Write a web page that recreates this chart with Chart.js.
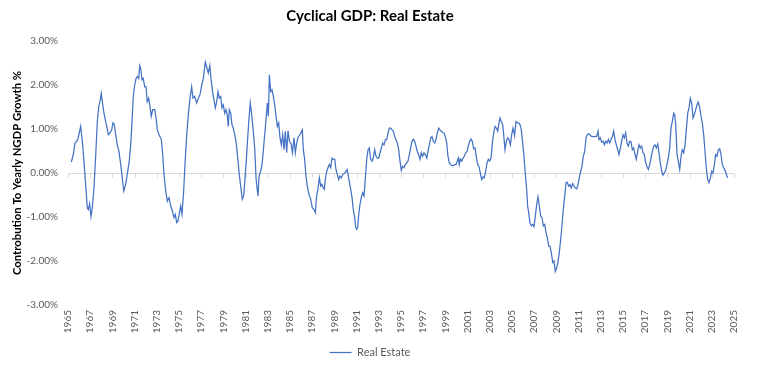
<!DOCTYPE html>
<html><head><meta charset="utf-8">
<script src="https://cdn.jsdelivr.net/npm/chart.js@4/dist/chart.umd.min.js"></script>
<style>html,body{margin:0;padding:0;background:#fff;}</style>
</head><body>
<canvas id="c" width="757" height="371"></canvas>
<script>
const chartTitle = 'Cyclical GDP: Real Estate';
const yAxisTitle = 'Controbution To Yearly NGDP Growth %';
const seriesName = 'Real Estate';

const years = [
1965.30,1965.48,1965.63,1965.78,1965.90,1966.14,1966.29,1966.44,1966.59,1966.74,1966.83,1966.95,
1967.07,1967.19,1967.34,1967.50,1967.64,1967.77,1967.88,1968.00,1968.13,1968.24,1968.36,1968.49,
1968.63,1968.78,1968.94,1969.05,1969.17,1969.30,1969.44,1969.59,1969.75,1969.89,1970.02,1970.16,
1970.34,1970.52,1970.65,1970.77,1970.88,1971.01,1971.13,1971.24,1971.37,1971.46,1971.55,1971.67,
1971.78,1971.91,1972.03,1972.14,1972.27,1972.39,1972.50,1972.63,1972.81,1972.93,1973.05,1973.20,
1973.41,1973.53,1973.65,1973.80,1973.95,1974.10,1974.25,1974.40,1974.55,1974.67,1974.79,1974.90,
1975.01,1975.15,1975.27,1975.42,1975.57,1975.72,1975.87,1975.99,1976.14,1976.26,1976.41,1976.59,
1976.74,1976.89,1977.05,1977.19,1977.37,1977.52,1977.64,1977.77,1977.88,1978.04,1978.15,1978.27,
1978.40,1978.51,1978.63,1978.76,1978.87,1978.99,1979.12,1979.23,1979.35,1979.44,1979.53,1979.66,
1979.77,1979.89,1980.02,1980.16,1980.29,1980.43,1980.59,1980.70,1980.83,1980.95,1981.06,1981.19,
1981.31,1981.42,1981.55,1981.69,1981.82,1981.94,1982.03,1982.12,1982.21,1982.36,1982.48,1982.59,
1982.72,1982.84,1982.96,1983.05,1983.14,1983.26,1983.38,1983.50,1983.62,1983.74,1983.86,1983.98,
1984.10,1984.22,1984.34,1984.46,1984.58,1984.70,1984.82,1984.95,1985.10,1985.22,1985.36,1985.48,
1985.60,1985.72,1985.87,1985.99,1986.11,1986.20,1986.32,1986.44,1986.56,1986.71,1986.87,1987.01,
1987.16,1987.28,1987.41,1987.52,1987.64,1987.77,1987.88,1988.00,1988.09,1988.18,1988.31,1988.42,
1988.54,1988.67,1988.78,1988.90,1989.03,1989.14,1989.26,1989.39,1989.50,1989.62,1989.77,1989.93,
1990.05,1990.14,1990.23,1990.34,1990.47,1990.59,1990.70,1990.83,1990.92,1991.01,1991.10,1991.19,
1991.31,1991.42,1991.55,1991.67,1991.78,1991.91,1992.03,1992.14,1992.27,1992.39,1992.50,1992.63,
1992.75,1992.87,1992.99,1993.11,1993.23,1993.35,1993.47,1993.59,1993.71,1993.83,1993.95,1994.07,
1994.19,1994.31,1994.43,1994.55,1994.67,1994.79,1994.91,1995.03,1995.14,1995.27,1995.39,1995.51,
1995.63,1995.75,1995.87,1995.99,1996.11,1996.23,1996.35,1996.47,1996.59,1996.71,1996.83,1996.95,
1997.07,1997.19,1997.32,1997.43,1997.55,1997.68,1997.79,1997.91,1998.04,1998.15,1998.27,1998.40,
1998.51,1998.63,1998.76,1998.87,1998.99,1999.12,1999.23,1999.35,1999.48,1999.59,1999.71,1999.84,
1999.95,2000.07,2000.16,2000.25,2000.34,2000.47,2000.59,2000.70,2000.83,2000.95,2001.06,2001.19,
2001.31,2001.42,2001.55,2001.67,2001.78,2001.91,2002.03,2002.14,2002.27,2002.39,2002.50,2002.63,
2002.75,2002.87,2002.99,2003.11,2003.23,2003.35,2003.47,2003.59,2003.71,2003.83,2003.92,2004.04,
2004.16,2004.25,2004.37,2004.49,2004.61,2004.73,2004.85,2004.97,2005.09,2005.23,2005.36,2005.48,
2005.60,2005.72,2005.84,2005.96,2006.08,2006.20,2006.32,2006.41,2006.50,2006.62,2006.74,2006.87,
2006.98,2007.10,2007.23,2007.34,2007.46,2007.59,2007.70,2007.82,2007.95,2008.06,2008.18,2008.31,
2008.42,2008.54,2008.67,2008.78,2008.90,2009.03,2009.14,2009.26,2009.39,2009.50,2009.62,2009.75,
2009.87,2009.98,2010.11,2010.23,2010.34,2010.47,2010.59,2010.70,2010.83,2010.95,2011.06,2011.19,
2011.31,2011.42,2011.55,2011.67,2011.78,2011.91,2012.03,2012.14,2012.27,2012.39,2012.50,2012.63,
2012.75,2012.84,2012.96,2013.08,2013.20,2013.32,2013.44,2013.56,2013.68,2013.80,2013.92,2014.04,
2014.16,2014.28,2014.40,2014.52,2014.64,2014.76,2014.88,2015.00,2015.12,2015.24,2015.36,2015.48,
2015.60,2015.72,2015.84,2015.96,2016.08,2016.20,2016.32,2016.44,2016.56,2016.68,2016.80,2016.92,
2017.05,2017.16,2017.28,2017.41,2017.52,2017.64,2017.77,2017.88,2018.00,2018.13,2018.24,2018.36,
2018.49,2018.60,2018.72,2018.85,2018.96,2019.08,2019.21,2019.32,2019.44,2019.57,2019.66,2019.75,
2019.87,2019.98,2020.11,2020.23,2020.34,2020.47,2020.59,2020.70,2020.83,2020.95,2021.06,2021.19,
2021.31,2021.42,2021.55,2021.67,2021.78,2021.91,2022.03,2022.14,2022.27,2022.39,2022.50,2022.63,
2022.75,2022.87,2022.99,2023.11,2023.23,2023.35,2023.47,2023.59,2023.71,2023.83,2023.95,2024.07,
2024.19,2024.31,2024.43
];

const values = [
0.25,0.42,0.68,0.72,0.78,1.06,0.72,0.27,-0.26,-0.79,-0.83,-0.70,
-0.99,-0.79,-0.34,0.42,1.17,1.51,1.62,1.81,1.55,1.36,1.21,1.06,
0.87,0.91,0.98,1.14,1.10,0.87,0.64,0.49,0.19,-0.11,-0.41,-0.30,
-0.03,0.27,0.64,1.17,1.74,2.00,2.15,2.19,2.15,2.44,2.38,2.12,
2.15,1.96,1.96,1.62,1.70,1.51,1.29,1.44,1.44,1.25,0.98,0.87,
0.76,0.42,-0.03,-0.41,-0.64,-0.56,-0.75,-0.86,-1.01,-0.94,-1.13,-1.10,
-0.95,-0.75,-0.94,-0.41,0.34,0.95,1.40,1.70,1.96,1.70,1.74,1.59,
1.70,1.78,2.00,2.15,2.52,2.38,2.27,2.44,2.15,1.81,1.66,1.48,
1.62,1.85,1.70,1.74,1.48,1.55,1.36,1.44,1.32,1.06,1.44,1.36,
1.10,1.02,0.87,0.68,0.34,-0.03,-0.37,-0.60,-0.52,-0.11,0.27,0.80,
1.25,1.59,1.32,0.95,0.57,-0.11,-0.34,-0.52,-0.07,0.04,0.19,0.49,
0.87,1.21,1.59,1.29,2.23,1.85,1.89,1.74,1.55,1.29,1.06,1.14,
0.80,0.64,0.87,0.53,0.95,0.46,0.96,0.72,0.66,0.46,0.80,0.46,
0.68,0.80,0.87,0.91,0.98,0.53,0.31,-0.07,-0.30,-0.49,-0.60,-0.79,
-0.83,-0.90,-0.49,-0.37,-0.11,-0.30,-0.26,-0.34,-0.37,-0.15,0.04,0.12,
0.19,0.12,0.34,0.31,0.31,0.08,-0.03,-0.15,-0.07,-0.11,-0.03,0.00,
0.04,0.08,-0.03,-0.19,-0.37,-0.56,-0.83,-1.01,-1.24,-1.28,-1.24,-0.94,
-0.71,-0.56,-0.45,-0.52,-0.15,0.31,0.53,0.57,0.31,0.27,0.34,0.53,
0.38,0.34,0.34,0.46,0.57,0.68,0.64,0.76,0.76,0.91,1.02,1.02,
0.98,0.95,0.83,0.76,0.68,0.53,0.27,0.06,0.15,0.12,0.19,0.23,
0.27,0.42,0.57,0.72,0.77,0.72,0.61,0.49,0.42,0.31,0.46,0.38,
0.46,0.42,0.34,0.49,0.64,0.80,0.83,0.72,0.68,0.76,0.91,1.02,
0.98,0.95,0.92,0.91,0.83,0.68,0.38,0.23,0.19,0.17,0.17,0.19,
0.19,0.27,0.34,0.19,0.32,0.27,0.34,0.38,0.46,0.49,0.61,0.72,
0.77,0.72,0.55,0.57,0.38,0.19,0.15,0.00,-0.15,-0.09,-0.11,0.04,
0.23,0.31,0.27,0.34,0.68,0.91,1.06,1.02,0.95,1.14,1.25,1.17,
1.10,0.87,0.53,0.72,0.80,0.76,0.64,0.87,1.02,0.85,1.17,1.14,
1.14,1.10,0.98,0.68,0.38,-0.03,-0.37,-0.75,-0.90,-1.13,-1.20,-1.17,
-1.22,-0.98,-0.71,-0.54,-0.75,-0.98,-1.01,-1.20,-1.17,-1.35,-1.47,-1.66,
-1.66,-1.81,-2.03,-2.00,-2.24,-2.15,-2.03,-1.81,-1.50,-1.20,-0.83,-0.52,
-0.22,-0.21,-0.30,-0.26,-0.34,-0.24,-0.30,-0.34,-0.36,-0.26,-0.11,0.04,
0.15,0.38,0.49,0.80,0.87,0.89,0.87,0.83,0.83,0.82,0.83,0.83,
0.95,0.76,0.80,0.70,0.72,0.64,0.72,0.68,0.76,0.68,0.76,0.83,
0.95,0.76,0.64,0.53,0.42,0.57,0.72,0.87,0.80,0.91,0.68,0.61,
0.72,0.71,0.53,0.57,0.42,0.31,0.49,0.64,0.57,0.61,0.46,0.42,
0.23,0.15,0.08,0.19,0.34,0.49,0.61,0.64,0.57,0.66,0.46,0.23,
0.04,-0.05,0.00,0.06,0.19,0.34,0.57,1.02,1.17,1.36,1.32,1.10,
0.42,0.27,0.08,0.38,0.53,0.46,0.64,0.98,1.36,1.48,1.70,1.59,
1.25,1.32,1.44,1.55,1.61,1.48,1.29,1.14,0.87,0.49,0.12,-0.15,
-0.22,-0.11,0.04,0.00,0.19,0.42,0.38,0.53,0.55,0.42,0.19,0.12,
0.06,-0.03,-0.11
];

const tickYears = [1965,1967,1969,1971,1973,1975,1977,1979,1981,1983,1985,1987,1989,1991,1993,1995,
  1997,1999,2001,2003,2005,2007,2009,2011,2013,2015,2017,2019,2021,2023,2025];
const yTicks = [-3,-2,-1,0,1,2,3];

const zeroTickMarks = {
  id: 'zeroTickMarks',
  beforeDatasetsDraw(chart) {
    const {ctx, scales: {x, y}} = chart;
    const y0 = Math.round(y.getPixelForValue(0)) + 0.5;
    ctx.save();
    ctx.strokeStyle = '#D9D9D9';
    ctx.lineWidth = 1;
    tickYears.forEach(t => {
      const px = Math.round(x.getPixelForValue(t)) + 0.5;
      ctx.beginPath(); ctx.moveTo(px, y0); ctx.lineTo(px, y0 + 4); ctx.stroke();
    });
    ctx.restore();
  }
};

new Chart(document.getElementById('c'), {
  type: 'line',
  data: {
    datasets: [{
      label: seriesName,
      data: years.map((yr, i) => ({x: yr, y: values[i]})),
      borderColor: '#4472C4',
      backgroundColor: '#4472C4',
      borderWidth: 1.25,
      pointRadius: 0,
      tension: 0,
      fill: false
    }]
  },
  plugins: [zeroTickMarks],
  options: {
    responsive: false,
    animation: false,
    layout: {padding: {left: 6, right: 23, top: 0, bottom: 3}},
    plugins: {
      title: {display: true, text: chartTitle, color: '#000000',
        font: {family: 'Lato', size: 15, weight: 'bold', lineHeight: 1.2},
        padding: {top: 7, bottom: 16}},
      legend: {display: true, position: 'bottom',
        labels: {usePointStyle: true, pointStyle: 'line', pointStyleWidth: 22, boxHeight: 11,
          color: '#595959', font: {family: 'Lato', size: 11}, padding: 4}},
      tooltip: {enabled: false}
    },
    scales: {
      x: {
        type: 'linear', min: 1965, max: 2025,
        afterBuildTicks(s) { s.ticks = tickYears.map(v => ({value: v})); },
        afterFit(s) { s.height = 38; },
        grid: {display: false, drawTicks: false}, border: {display: false},
        ticks: {autoSkip: false, minRotation: 90, maxRotation: 90, padding: 5,
          color: '#595959', font: {family: 'Lato', size: 10}, callback: v => String(v)}
      },
      y: {
        min: -3, max: 3,
        afterBuildTicks(s) { s.ticks = yTicks.map(v => ({value: v})); },
        afterFit(s) { s.width = 62; },
        grid: {drawTicks: false, lineWidth: 1,
          color: c => (c.tick && c.tick.value === 0) ? '#D9D9D9' : 'rgba(0,0,0,0)'},
        border: {display: false},
        ticks: {padding: 10, color: '#595959', font: {family: 'Lato', size: 10},
          callback: v => Number(v).toFixed(2) + '%'},
        title: {display: true, text: yAxisTitle, color: '#000000',
          font: {family: 'Lato', size: 11.3, weight: 'bold'}, padding: {top: 5, bottom: 0}}
      }
    }
  }
});
</script>
</body></html>
